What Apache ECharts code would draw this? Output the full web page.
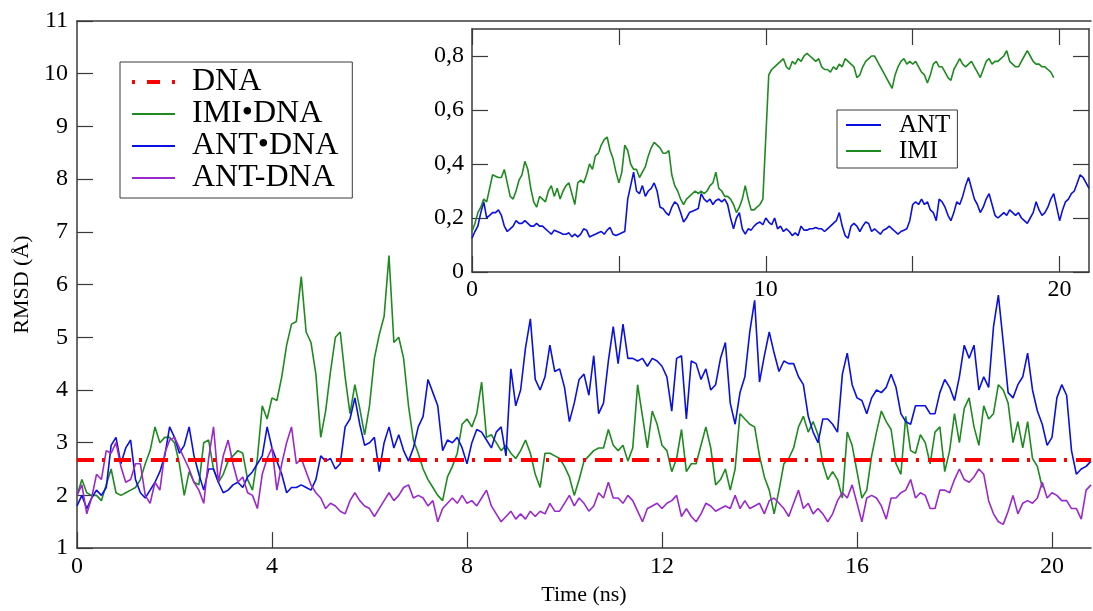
<!DOCTYPE html>
<html><head><meta charset="utf-8">
<script src="https://cdn.jsdelivr.net/npm/echarts@6/dist/echarts.min.js"></script>
<style>html,body{margin:0;padding:0;background:#fff}#c{width:1093px;height:611px}</style>
</head><body><div id="c"></div>
<script>
// ---- data ----
const timeStep = 0.1;           // ns between samples
const mainXMax = 20.8;
const dnaRmsd = 2.67;           // DNA reference level
const mainXTicks = [0, 4, 8, 12, 16, 20];
const mainYTicks = [1, 2, 3, 4, 5, 6, 7, 8, 9, 10, 11];
const insetXTicks = [0, 5, 10, 15, 20];
const insetXLabels = [0, 10, 20];
const insetYTicks = [0, 0.2, 0.4, 0.6, 0.8];

const mainNames = ['DNA', 'IMI\u2022DNA', 'ANT\u2022DNA', 'ANT-DNA'];
const insetNames = ['ANT', 'IMI'];

const imiDNA = [
 2.0,2.3,2.05,2.0,2.0,1.9,2.2,2.5,2.05,2.0, 2.05,2.1,2.15,2.3,2.6,2.85,3.3,3.0,3.1,3.1,
 3.0,2.6,2.0,2.45,2.25,2.2,3.0,3.05,2.5,2.25, 2.4,2.65,2.75,2.85,2.8,2.3,2.1,2.7,3.7,3.45,
 3.85,3.8,4.25,4.85,5.25,5.3,6.15,5.1,4.9,4.3, 3.1,3.6,4.35,5.0,5.1,4.25,3.55,4.1,3.65,3.15,
 3.7,4.6,5.05,5.4,6.55,4.9,5.0,4.6,3.7,3.05, 2.8,2.5,2.3,2.15,2.0,1.9,2.35,2.55,2.8,3.35,
 3.45,3.3,3.55,4.15,3.1,3.15,3.0,2.85,2.95,2.8, 2.7,2.85,3.05,2.8,2.4,2.15,2.8,2.8,2.75,2.7,
 2.55,2.35,2.0,2.3,2.65,2.75,2.85,2.9,2.9,3.25, 2.95,2.85,2.95,2.65,2.9,4.1,3.5,2.9,3.6,3.35,
 2.95,2.85,2.45,2.7,3.25,2.45,2.6,2.6,2.95,3.3, 2.9,2.2,2.3,2.5,2.1,2.5,3.55,3.45,3.35,3.3,
 2.75,2.35,2.1,1.65,2.1,2.6,2.7,2.9,3.3,3.5, 3.2,3.4,3.15,2.6,2.3,2.45,2.3,1.95,3.2,2.95,
 2.45,1.95,2.1,2.75,3.2,3.6,3.4,3.25,2.6,2.4, 3.5,2.85,2.8,3.15,3.0,2.6,3.2,3.3,2.45,2.85,
 3.55,3.0,3.65,3.85,3.3,2.95,3.7,3.45,3.55,4.1, 4.0,3.75,3.0,3.4,2.9,3.4,2.7,2.55,2.15
];
const antDNA = [
 1.8,2.0,1.75,1.95,2.1,2.0,2.15,2.95,3.1,2.6, 2.9,3.05,2.3,2.05,1.95,2.1,2.25,2.45,2.75,3.3,
 3.1,2.8,2.95,3.3,2.75,2.4,2.1,2.5,2.5,2.25, 2.05,2.1,2.2,2.25,2.15,2.35,2.45,2.6,2.75,3.3,
 2.9,2.65,2.4,2.05,2.15,2.15,2.2,2.15,2.1,2.3, 2.75,2.65,2.7,2.5,2.6,3.3,3.45,3.85,3.35,2.95,
 3.0,3.1,2.45,3.0,3.3,2.9,3.15,2.85,2.65,2.9, 3.3,3.5,4.2,3.95,3.7,2.85,3.05,3.0,3.1,2.9,
 2.6,3.0,3.25,3.2,3.05,2.9,3.2,3.3,2.75,4.4, 3.7,4.0,4.8,5.35,4.2,4.0,4.25,4.85,4.35,4.4,
 4.05,3.4,3.75,4.2,4.3,3.9,4.65,3.55,3.75,4.55, 5.2,4.5,5.25,4.6,4.6,4.55,4.6,4.45,4.6,4.55,
 4.45,4.25,3.6,4.6,4.65,3.45,4.55,4.5,4.2,4.4, 4.0,4.1,4.6,4.9,3.75,3.35,3.95,4.25,5.1,5.7,
 4.15,4.65,5.1,4.7,4.35,4.55,4.5,4.5,4.25,4.1, 3.5,3.2,3.0,3.45,3.45,3.35,3.2,4.3,4.7,4.1,
 3.85,3.8,3.55,3.85,4.0,3.95,4.05,4.3,4.05,3.55, 3.4,3.35,3.7,3.7,3.7,3.55,3.55,3.95,4.2,4.05,
 3.8,4.25,4.85,4.6,4.85,4.0,4.25,4.05,5.2,5.8, 4.9,3.95,3.85,4.1,4.25,4.7,4.0,3.6,3.35,2.95,
 3.1,3.85,4.1,3.9,2.85,2.4,2.5,2.55,2.65
];
const antCovDNA = [
 2.0,2.2,1.65,1.95,2.4,2.3,2.85,2.8,3.0,2.55, 2.25,2.3,2.6,2.6,2.0,1.85,2.25,2.1,2.8,3.05,
 3.1,2.9,2.7,2.5,2.25,2.1,1.85,2.7,3.3,2.25, 2.75,3.05,2.6,2.25,2.35,2.05,2.0,1.75,2.4,2.7,
 2.9,2.1,2.6,3.0,3.3,2.6,2.7,2.45,2.2,2.05, 1.95,1.75,1.85,1.8,1.7,1.65,1.9,2.05,1.9,1.8,
 1.75,1.6,1.75,1.9,2.05,1.9,2.0,2.15,2.2,1.95, 2.0,1.95,1.8,1.9,1.5,1.75,1.85,1.95,1.85,2.0,
 1.85,1.9,1.8,1.95,2.1,1.8,1.65,1.5,1.6,1.7, 1.55,1.65,1.55,1.7,1.6,1.7,1.65,1.85,1.7,1.7,
 1.85,2.0,1.8,1.95,1.85,1.7,1.8,2.05,1.95,2.25, 1.95,1.95,1.85,2.0,1.9,1.7,1.5,1.75,1.8,1.85,
 1.75,1.85,1.9,2.0,1.6,1.75,1.6,1.5,1.65,1.85, 1.8,1.7,1.75,1.8,1.75,2.0,1.75,1.9,1.75,1.8,
 1.85,1.65,1.9,1.95,1.85,1.75,1.6,1.85,2.1,1.75, 1.85,1.65,1.75,1.65,1.5,1.65,1.9,2.05,1.95,2.2,
 1.85,1.5,1.95,2.0,1.95,1.8,1.55,1.95,1.95,2.05, 2.1,2.3,1.95,2.05,2.0,1.75,1.75,2.1,2.1,2.05,
 2.3,2.5,2.3,2.25,2.35,2.5,2.4,1.9,1.65,1.5, 1.45,1.7,2.0,1.65,1.85,1.9,1.85,1.95,2.25,1.95,
 2.05,2.0,1.9,1.9,1.75,1.75,1.55,2.1,2.2
];
const insetANT = [
 0.125,0.15,0.17,0.22,0.26,0.2,0.21,0.22,0.22,0.23, 0.21,0.17,0.15,0.16,0.17,0.19,0.18,0.18,0.19,0.18,
 0.17,0.17,0.18,0.17,0.17,0.16,0.15,0.14,0.155,0.15, 0.145,0.14,0.14,0.145,0.13,0.14,0.13,0.14,0.16,0.155,
 0.13,0.135,0.14,0.145,0.15,0.14,0.155,0.165,0.14,0.135, 0.14,0.145,0.15,0.27,0.32,0.37,0.3,0.29,0.32,0.28,
 0.3,0.31,0.33,0.3,0.24,0.235,0.22,0.21,0.24,0.26, 0.25,0.22,0.185,0.2,0.22,0.225,0.23,0.235,0.29,0.27,
 0.26,0.27,0.25,0.265,0.27,0.26,0.27,0.25,0.2,0.16, 0.2,0.22,0.16,0.14,0.16,0.155,0.17,0.18,0.185,0.175,
 0.2,0.185,0.175,0.2,0.16,0.17,0.15,0.16,0.15,0.135, 0.145,0.135,0.17,0.155,0.155,0.16,0.16,0.165,0.16,0.16,
 0.15,0.16,0.17,0.18,0.19,0.22,0.17,0.135,0.125,0.17, 0.18,0.17,0.15,0.17,0.185,0.18,0.15,0.16,0.15,0.14,
 0.155,0.16,0.17,0.16,0.15,0.14,0.15,0.155,0.16,0.19, 0.25,0.26,0.25,0.27,0.25,0.26,0.23,0.22,0.19,0.27,
 0.26,0.24,0.21,0.19,0.22,0.26,0.25,0.28,0.32,0.35, 0.31,0.27,0.25,0.22,0.24,0.27,0.29,0.25,0.21,0.2,
 0.21,0.22,0.21,0.23,0.22,0.21,0.22,0.2,0.19,0.18, 0.2,0.22,0.26,0.23,0.21,0.22,0.24,0.27,0.29,0.24,
 0.19,0.23,0.26,0.27,0.29,0.3,0.33,0.36,0.35,0.33, 0.31
];
const insetIMI = [
 0.15,0.18,0.22,0.24,0.27,0.26,0.31,0.36,0.355,0.35, 0.35,0.38,0.33,0.28,0.27,0.3,0.34,0.36,0.41,0.38,
 0.31,0.26,0.24,0.28,0.27,0.26,0.3,0.32,0.28,0.31, 0.27,0.3,0.32,0.33,0.29,0.25,0.33,0.34,0.33,0.36,
 0.4,0.38,0.43,0.44,0.47,0.49,0.5,0.45,0.42,0.37, 0.33,0.37,0.47,0.45,0.4,0.38,0.38,0.35,0.37,0.39,
 0.43,0.46,0.48,0.47,0.46,0.44,0.44,0.45,0.36,0.32, 0.3,0.27,0.25,0.27,0.28,0.29,0.3,0.29,0.3,0.29,
 0.3,0.32,0.33,0.37,0.31,0.3,0.28,0.28,0.27,0.25, 0.22,0.24,0.27,0.32,0.27,0.23,0.23,0.24,0.25,0.27,
 0.5,0.73,0.75,0.76,0.77,0.78,0.79,0.76,0.75,0.78, 0.77,0.79,0.78,0.8,0.81,0.8,0.79,0.78,0.79,0.76,
 0.75,0.75,0.74,0.76,0.75,0.77,0.76,0.79,0.78,0.77, 0.76,0.72,0.73,0.76,0.78,0.79,0.8,0.8,0.78,0.76,
 0.74,0.72,0.7,0.68,0.73,0.76,0.78,0.79,0.77,0.78, 0.77,0.78,0.76,0.74,0.73,0.7,0.73,0.77,0.78,0.76,
 0.76,0.74,0.72,0.71,0.75,0.77,0.79,0.77,0.76,0.77, 0.78,0.76,0.74,0.72,0.75,0.78,0.79,0.77,0.78,0.78,
 0.79,0.8,0.82,0.78,0.77,0.76,0.76,0.78,0.8,0.82, 0.8,0.78,0.77,0.77,0.76,0.76,0.75,0.74,0.72
];

// ---- chart ----
function toPairs(arr) { return arr.map((v, i) => [Math.round(i * timeStep * 10) / 10, v]); }
const SERIF = "'Liberation Serif', 'DejaVu Serif', serif";
const AX = '#3a3a3a';
const C = { dna: '#ff0000', imi: '#1f8a1f', ant: '#0a10e0', cov: '#9b28cc' };
const LW = 1.6;

const axisLineS = { show: true, onZero: false, lineStyle: { color: AX, width: 1.5 } };
const tickS = (vals) => ({ show: true, inside: true, length: 16, customValues: vals, lineStyle: { color: AX, width: 1.2 } });

const chart = echarts.init(document.getElementById('c'), null, { renderer: 'canvas' });
chart.setOption({
  animation: false,
  backgroundColor: '#fff',
  grid: [
    { left: 77, top: 21, right: 2, bottom: 58 },
    { left: 472, top: 29, right: 4, bottom: 339, show: true, backgroundColor: '#fff', borderWidth: 0 }
  ],
  xAxis: [
    { gridIndex: 0, type: 'value', min: 0, max: mainXMax, position: 'bottom',
      axisLine: axisLineS, axisTick: tickS(mainXTicks), splitLine: { show: false },
      axisLabel: { customValues: mainXTicks, color: '#000', fontFamily: SERIF, fontSize: 24, margin: 7 },
      name: 'Time (ns)', nameLocation: 'middle', nameGap: 30,
      nameTextStyle: { color: '#000', fontFamily: SERIF, fontSize: 22 } },
    { gridIndex: 0, type: 'value', min: 0, max: mainXMax, position: 'top',
      axisLine: axisLineS, axisTick: { show: false }, axisLabel: { show: false }, splitLine: { show: false } },
    { gridIndex: 1, type: 'value', min: 0, max: 21, position: 'bottom',
      axisLine: axisLineS, axisTick: tickS(insetXTicks), splitLine: { show: false },
      axisLabel: { customValues: insetXLabels, color: '#000', fontFamily: SERIF, fontSize: 24, margin: 6 } },
    { gridIndex: 1, type: 'value', min: 0, max: 21, position: 'top',
      axisLine: axisLineS, axisTick: tickS(insetXTicks), axisLabel: { show: false }, splitLine: { show: false } }
  ],
  yAxis: [
    { gridIndex: 0, type: 'value', min: 1, max: 11, position: 'left',
      axisLine: axisLineS, axisTick: tickS(mainYTicks), splitLine: { show: false },
      axisLabel: { customValues: mainYTicks, color: '#000', fontFamily: SERIF, fontSize: 24, margin: 9 },
      name: 'RMSD (\u00C5)', nameLocation: 'middle', nameGap: 36, nameRotate: 90,
      nameTextStyle: { color: '#000', fontFamily: SERIF, fontSize: 22 } },
    { gridIndex: 1, type: 'value', min: 0, max: 0.9, position: 'left',
      axisLine: axisLineS, axisTick: tickS(insetYTicks), splitLine: { show: false },
      axisLabel: { customValues: insetYTicks, color: '#000', fontFamily: SERIF, fontSize: 24, margin: 8,
        formatter: v => String(v).replace('.', ',') } },
    { gridIndex: 1, type: 'value', min: 0, max: 0.9, position: 'right',
      axisLine: axisLineS, axisTick: tickS(insetYTicks), axisLabel: { show: false }, splitLine: { show: false } }
  ],
  legend: [
    { orient: 'vertical', left: 120, top: 62, padding: [4, 14, 4, 10], itemGap: 0,
      itemWidth: 43, itemHeight: 12, borderColor: AX, borderWidth: 1, backgroundColor: '#fff',
      itemStyle: { opacity: 0 },
      textStyle: { color: '#000', fontFamily: SERIF, fontSize: 32, lineHeight: 31, padding: [0, 0, 0, 12] },
      data: [
        { name: mainNames[0], lineStyle: { type: [3, 12, 13, 12], width: 4 } },
        mainNames[1], mainNames[2], mainNames[3]
      ] },
    { orient: 'vertical', left: 837, top: 110, padding: [2, 7, 4, 8], itemGap: 0,
      itemWidth: 35, itemHeight: 12, borderColor: AX, borderWidth: 1, backgroundColor: '#fff',
      itemStyle: { opacity: 0 },
      textStyle: { color: '#000', fontFamily: SERIF, fontSize: 25, lineHeight: 26, padding: [0, 0, 0, 13] },
      data: insetNames }
  ],
  series: [
    { name: mainNames[1], type: 'line', xAxisIndex: 0, yAxisIndex: 0, symbol: 'none', z: 3,
      data: toPairs(imiDNA), lineStyle: { color: C.imi, width: LW }, itemStyle: { color: C.imi } },
    { name: mainNames[2], type: 'line', xAxisIndex: 0, yAxisIndex: 0, symbol: 'none', z: 3,
      data: toPairs(antDNA), lineStyle: { color: C.ant, width: LW }, itemStyle: { color: C.ant } },
    { name: mainNames[3], type: 'line', xAxisIndex: 0, yAxisIndex: 0, symbol: 'none', z: 3,
      data: toPairs(antCovDNA), lineStyle: { color: C.cov, width: LW }, itemStyle: { color: C.cov } },
    { name: mainNames[0], type: 'line', xAxisIndex: 0, yAxisIndex: 0, symbol: 'none', z: 4,
      data: [[0, dnaRmsd], [mainXMax, dnaRmsd]],
      lineStyle: { color: C.dna, width: 4, type: [17, 8, 3, 9] }, itemStyle: { color: C.dna } },
    { name: insetNames[0], type: 'line', xAxisIndex: 2, yAxisIndex: 1, symbol: 'none', z: 5,
      data: toPairs(insetANT), lineStyle: { color: C.ant, width: LW }, itemStyle: { color: C.ant } },
    { name: insetNames[1], type: 'line', xAxisIndex: 2, yAxisIndex: 1, symbol: 'none', z: 5,
      data: toPairs(insetIMI), lineStyle: { color: C.imi, width: LW }, itemStyle: { color: C.imi } }
  ]
});
</script></body></html>
